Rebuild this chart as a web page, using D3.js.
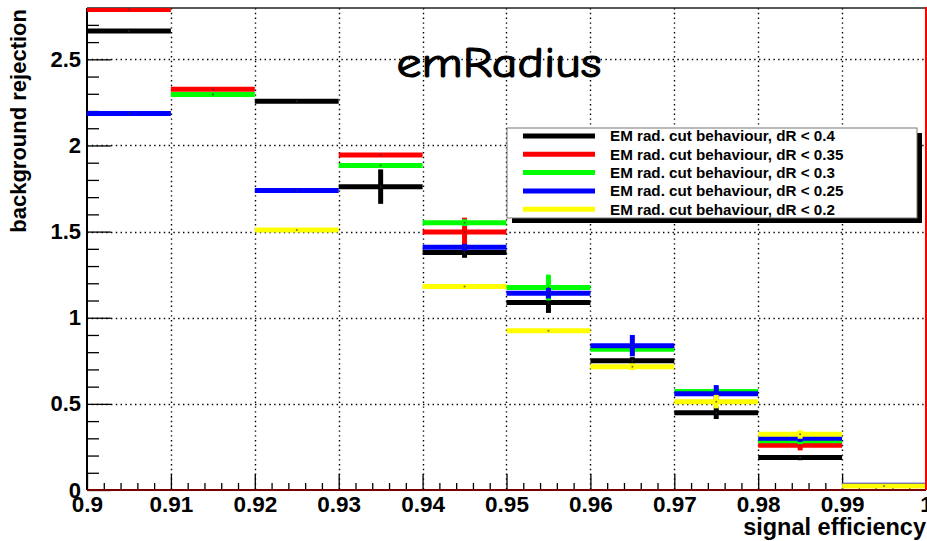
<!DOCTYPE html>
<html>
<head>
<meta charset="utf-8">
<script src="https://cdn.jsdelivr.net/npm/d3@7"></script>
<style>
  html, body { margin: 0; padding: 0; background: #fff; }
  svg { display: block; }
  text { font-family: "Liberation Sans", Arial, Helvetica, sans-serif; font-weight: bold; fill: #000; }
</style>
</head>
<body>
<svg id="chart" width="927" height="541"></svg>
<script>
// Bin edges of the signal-efficiency histogram (10 bins of width 0.01)
const binEdges = [0.90, 0.91, 0.92, 0.93, 0.94, 0.95, 0.96, 0.97, 0.98, 0.99, 1.00];

// Series labels and colours (drawing order = legend order)
const seriesNames = [
  "EM rad. cut behaviour, dR < 0.4",
  "EM rad. cut behaviour, dR < 0.35",
  "EM rad. cut behaviour, dR < 0.3",
  "EM rad. cut behaviour, dR < 0.25",
  "EM rad. cut behaviour, dR < 0.2"
];
const seriesColors = ["#000000", "#ff0000", "#00ff00", "#0000ff", "#ffff00"];

// Background rejection per bin (null = bin not shown)
const rejR040 = [2.665, null, 2.257, 1.761, 1.378, 1.088, 0.751, 0.449, 0.188, null];
const rejR035 = [2.79, 2.327, null, 1.945, 1.498, null, null, null, 0.260, null];
const rejR030 = [null, 2.296, null, 1.883, 1.552, 1.175, 0.817, 0.572, 0.286, null];
const rejR025 = [2.185, null, 1.738, null, 1.409, 1.142, 0.838, 0.559, 0.300, 0.027];
const rejR020 = [null, null, 1.510, null, 1.181, 0.925, 0.716, 0.513, 0.323, 0.023];

// Statistical errors per bin
const errR040 = [0.01, null, 0.01, 0.10, 0.03, 0.06, 0.02, 0.037, 0.015, null];
const errR035 = [0.01, 0.01, null, 0.01, 0.083, null, null, null, 0.03, null];
const errR030 = [null, 0.01, null, 0.01, 0.02, 0.075, 0.03, 0.02, 0.02, null];
const errR025 = [0.01, null, 0.01, null, 0.02, 0.03, 0.062, 0.05, 0.02, 0.005];
const errR020 = [null, null, 0.01, null, 0.01, 0.01, 0.02, 0.039, 0.025, 0.005];

// Axis ticks and labels
const xMajorTicks = [0.90, 0.91, 0.92, 0.93, 0.94, 0.95, 0.96, 0.97, 0.98, 0.99, 1.00];
const xTickLabels = ["0.9", "0.91", "0.92", "0.93", "0.94", "0.95", "0.96", "0.97", "0.98", "0.99", "1"];
const yMajorTicks = [0, 0.5, 1, 1.5, 2, 2.5];
const yTickLabels = ["0", "0.5", "1", "1.5", "2", "2.5"];
const yMax = 2.798;

const seriesValues = [rejR040, rejR035, rejR030, rejR025, rejR020];
const seriesErrors = [errR040, errR035, errR030, errR025, errR020];

const svg = d3.select("#chart");
const frame = { left: 87, right: 926, top: 8, bottom: 490 };

const x = d3.scaleLinear().domain([0.9, 1.0]).range([frame.left, frame.right]);
const y = d3.scaleLinear().domain([0, yMax]).range([frame.bottom, frame.top]);

svg.append("rect").attr("width", 927).attr("height", 541).attr("fill", "#fff");

svg.append("defs").append("clipPath").attr("id", "plotClip")
  .append("rect")
  .attr("x", frame.left).attr("y", frame.top)
  .attr("width", frame.right - frame.left).attr("height", frame.bottom - frame.top);

// Dotted grid at major ticks
const grid = svg.append("g").attr("stroke", "#000").attr("stroke-width", 1.4)
  .attr("stroke-dasharray", "1.4,3.4");
grid.selectAll("line.gx").data(xMajorTicks.slice(1, -1)).join("line")
  .attr("x1", d => Math.round(x(d)) + 0.5).attr("x2", d => Math.round(x(d)) + 0.5)
  .attr("y1", frame.top).attr("y2", frame.bottom);
grid.selectAll("line.gy").data(yMajorTicks.slice(1)).join("line")
  .attr("x1", frame.left).attr("x2", frame.right)
  .attr("y1", d => Math.round(y(d)) + 0.5).attr("y2", d => Math.round(y(d)) + 0.5);

// Minor ticks
const xMinor = d3.range(0.902, 1.0, 0.002).filter(v => Math.abs(v * 100 - Math.round(v * 100)) > 1e-6);
const yMinor = d3.range(0.1, yMax, 0.1).filter(v => Math.abs(v * 2 - Math.round(v * 2)) > 1e-6);

svg.append("g").attr("transform", `translate(0,${frame.bottom})`)
  .call(d3.axisBottom(x).tickValues(xMinor).tickFormat("").tickSizeInner(-7).tickSizeOuter(0))
  .call(g => g.select(".domain").remove())
  .call(g => g.selectAll("line").attr("stroke", "#000").attr("stroke-width", 1.3));

svg.append("g").attr("transform", `translate(${frame.left},0)`)
  .call(d3.axisLeft(y).tickValues(yMinor).tickFormat("").tickSizeInner(-12).tickSizeOuter(0))
  .call(g => g.select(".domain").remove())
  .call(g => g.selectAll("line").attr("stroke", "#000").attr("stroke-width", 1.3));

// Major ticks with labels
svg.append("g").attr("transform", `translate(0,${frame.bottom})`)
  .call(d3.axisBottom(x).tickValues(xMajorTicks)
    .tickFormat((d, i) => xTickLabels[i]).tickSizeInner(-16).tickSizeOuter(0).tickPadding(6))
  .call(g => g.select(".domain").remove())
  .call(g => g.selectAll("line").attr("stroke", "#000").attr("stroke-width", 1.3))
  .call(g => g.selectAll("text").attr("font-size", 22.5).attr("font-family", null).attr("fill", "#000"));

svg.append("g").attr("transform", `translate(${frame.left},0)`)
  .call(d3.axisLeft(y).tickValues(yMajorTicks)
    .tickFormat((d, i) => yTickLabels[i]).tickSizeInner(-24).tickSizeOuter(0).tickPadding(6))
  .call(g => g.select(".domain").remove())
  .call(g => g.selectAll("line").attr("stroke", "#000").attr("stroke-width", 1.3))
  .call(g => g.selectAll("text").attr("font-size", 22).attr("font-family", null).attr("fill", "#000"));

// Frame
svg.append("line").attr("x1", frame.left).attr("x2", frame.right)
  .attr("y1", frame.top).attr("y2", frame.top).attr("stroke", "#222").attr("stroke-width", 1.5);
svg.append("line").attr("x1", frame.left).attr("x2", frame.left)
  .attr("y1", frame.top).attr("y2", frame.bottom).attr("stroke", "#000").attr("stroke-width", 2);

// Histograms with error bars
const plot = svg.append("g").attr("clip-path", "url(#plotClip)");
seriesValues.forEach((vals, s) => {
  const errs = seriesErrors[s];
  const bins = vals.map((v, i) => ({ v, e: errs[i], lo: binEdges[i], hi: binEdges[i + 1] }))
    .filter(b => b.v !== null);
  const g = plot.append("g").attr("stroke", seriesColors[s]);
  g.selectAll("line.h").data(bins).join("line")
    .attr("x1", b => x(b.lo)).attr("x2", b => x(b.hi))
    .attr("y1", b => y(b.v)).attr("y2", b => y(b.v))
    .attr("stroke-width", 5);
  g.selectAll("line.e").data(bins.filter(b => b.e)).join("line")
    .attr("x1", b => x((b.lo + b.hi) / 2)).attr("x2", b => x((b.lo + b.hi) / 2))
    .attr("y1", b => y(b.v - b.e)).attr("y2", b => y(b.v + b.e))
    .attr("stroke-width", 5);
  g.selectAll("circle").data(bins).join("circle")
    .attr("cx", b => x((b.lo + b.hi) / 2)).attr("cy", b => y(b.v))
    .attr("r", 1).attr("stroke", "none").attr("fill", "#333").attr("opacity", 0.7);
});

// Bottom axis line and right edge
svg.append("line").attr("x1", frame.left).attr("x2", frame.right)
  .attr("y1", frame.bottom).attr("y2", frame.bottom).attr("stroke", "#7a0000").attr("stroke-width", 2);
svg.append("line").attr("x1", frame.right).attr("x2", frame.right)
  .attr("y1", frame.top - 1).attr("y2", frame.bottom).attr("stroke", "#ff0000").attr("stroke-width", 2);

// Axis titles
svg.append("text").attr("transform", "translate(26,9) rotate(-90)")
  .attr("text-anchor", "end").attr("font-size", 22).text("background rejection");
svg.append("text").attr("x", 926).attr("y", 535)
  .attr("text-anchor", "end").attr("font-size", 23.5).text("signal efficiency");

// Plot title
svg.append("text").attr("x", 499).attr("y", 77).attr("text-anchor", "middle")
  .style("font-family", "'Comic Sans MS', 'Comic Neue', 'DejaVu Sans', sans-serif")
  .style("font-weight", "normal")
  .attr("stroke", "#000").attr("stroke-width", 1.1)
  .attr("font-size", 42).attr("textLength", 205).attr("lengthAdjust", "spacingAndGlyphs")
  .text("emRadius");

// Legend
const leg = { x: 507, y: 128, w: 410, h: 90, shadow: 5 };
svg.append("rect").attr("x", leg.x + leg.shadow).attr("y", leg.y + leg.shadow)
  .attr("width", leg.w).attr("height", leg.h).attr("fill", "#000");
svg.append("rect").attr("x", leg.x).attr("y", leg.y).attr("width", leg.w).attr("height", leg.h)
  .attr("fill", "#fff").attr("stroke", "#777").attr("stroke-width", 1);
const rows = svg.append("g").selectAll("g").data(seriesNames).join("g")
  .attr("transform", (d, i) => `translate(0,${136 + i * 18.3})`);
rows.append("line").attr("x1", 523).attr("x2", 595).attr("y1", 0).attr("y2", 0)
  .attr("stroke", (d, i) => seriesColors[i]).attr("stroke-width", 5);
rows.append("text").attr("x", 610).attr("y", 0).attr("dy", "0.35em")
  .attr("font-size", 15.2).text(d => d);
</script>
</body>
</html>
